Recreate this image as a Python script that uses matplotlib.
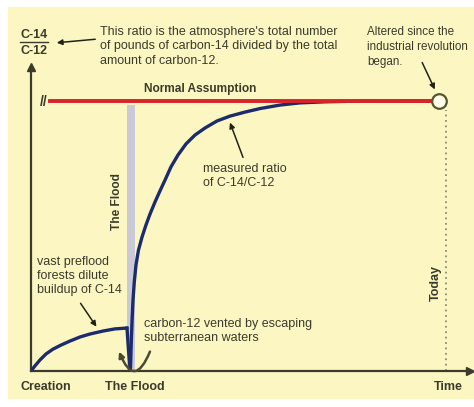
import matplotlib
matplotlib.use("Agg")
import matplotlib.pyplot as plt
from matplotlib import font_manager
from matplotlib.patches import Rectangle

# --- data (time: 0 = Creation, 100 = Today; ratio: 1 = normal assumption) ---
preflood_time = [0, 0.96, 2.17, 3.61, 5.3, 7.23, 9.4, 11.81, 14.22, 17.35,
                 20.24, 23.13]
preflood_ratio = [0, 0.019, 0.041, 0.063, 0.081, 0.096, 0.111, 0.126, 0.137,
                  0.148, 0.156, 0.159]

flood_drop_time = [23.13, 23.49, 23.86]
flood_drop_ratio = [0.159, 0.078, 0.011]

postflood_time = [23.98, 24.1, 24.22, 24.39, 24.58, 24.89, 25.3, 25.9, 26.75,
                  27.71, 28.67, 29.88, 31.08, 32.29, 33.73, 35.42, 37.35,
                  39.52, 41.93, 44.82, 47.95, 51.57, 55.18, 60.0, 64.82,
                  70.84, 76.87, 88.92, 96.87]
postflood_ratio = [0.011, 0.078, 0.133, 0.2, 0.263, 0.33, 0.393, 0.448, 0.496,
                   0.541, 0.581, 0.626, 0.667, 0.707, 0.756, 0.8, 0.841,
                   0.874, 0.9, 0.926, 0.944, 0.959, 0.972, 0.985, 0.993,
                   0.997, 0.999, 1.0, 1.0]

normal_time = [4.6, 97.0]
normal_ratio = [1.0, 1.0]

flood_band = (23.1, 25.1)
altered_point = (98.3, 1.0)
today_time = 100
today_top = 0.967

x_labels = ["Creation", "The Flood", "Time"]
x_label_pos = [3.5, 25.0, 100.5]

# --- style ---
W, H = 474, 407
bg = "#fcf7c2"
ink = "#3b3b2c"
navy = "#1b2b6c"
red = "#d8232a"

names = {f.name for f in font_manager.fontManager.ttflist}
family = "Liberation Sans" if "Liberation Sans" in names else "DejaVu Sans"
plt.rcParams["font.family"] = [family, "DejaVu Sans"]


def fp(x, y):
    """pixel position in the picture -> figure fraction"""
    return x / W, 1 - y / H


fig = plt.figure(figsize=(W / 100, H / 100), dpi=100)
fig.patch.set_facecolor("white")
fig.patches.append(Rectangle(fp(8, 398), (W - 8) / W, (398 - 7) / H,
                             transform=fig.transFigure, color=bg, zorder=-5))

# axes: x=0 at px 31, x=100 at px 446; y=0 at px 371, y=1 at px 101
ax = fig.add_axes([31 / W, 1 - 371 / H, (470 - 31) / W, (371 - 67) / H])
ax.set_xlim(0, (470 - 31) / 4.15)
ax.set_ylim(0, (371 - 67) / 270)
ax.patch.set_alpha(0)
for s in ["top", "right"]:
    ax.spines[s].set_visible(False)
for s in ["left", "bottom"]:
    ax.spines[s].set_color(ink)
    ax.spines[s].set_linewidth(1.6)
ax.set_xticks([])
ax.set_yticks([])
ax.plot(1, 0, ">", color=ink, ms=6, transform=ax.transAxes, clip_on=False)
ax.plot(0, 1, "^", color=ink, ms=6, transform=ax.transAxes, clip_on=False)

# flood band and today line
ax.axvspan(flood_band[0], flood_band[1], ymin=0, ymax=0.985 / ax.get_ylim()[1],
           color="#c9c9d8", lw=0, zorder=1)
ax.plot([today_time, today_time], [0, today_top], ls=(0, (1, 2)),
        color="#8c8c78", lw=1.3, zorder=1)

# curves
ax.plot(preflood_time, preflood_ratio, color=navy, lw=2.4, zorder=3,
        solid_capstyle="round", solid_joinstyle="round")
ax.plot(flood_drop_time, flood_drop_ratio, color=navy, lw=2.4, zorder=3)
ax.plot(postflood_time, postflood_ratio, color=navy, lw=2.4, zorder=3,
        solid_capstyle="round", solid_joinstyle="round")
ax.plot(normal_time, normal_ratio, color=red, lw=2.8, zorder=4)
ax.plot(*altered_point, "o", ms=10.5, mfc="#fffdea", mec="#55552f", mew=1.6,
        zorder=5)

# texts
fs = 9
ls = 1.25
fig.text(*fp(34, 35), "C-14", ha="center", va="center", fontsize=9,
         color=ink, fontweight="bold")
fig.lines.append(plt.Line2D([fp(20, 0)[0], fp(48, 0)[0]],
                            [fp(0, 42)[1]] * 2, color=ink, lw=1,
                            transform=fig.transFigure))
fig.text(*fp(34, 51), "C-12", ha="center", va="center", fontsize=9,
         color=ink, fontweight="bold")
fig.text(*fp(44, 102), "//", ha="center", va="center", fontsize=10,
         color=ink, fontweight="bold")

fig.text(*fp(100, 26), "This ratio is the atmosphere's total number\n"
         "of pounds of carbon-14 divided by the total\namount of carbon-12.",
         ha="left", va="top", fontsize=fs, color=ink, linespacing=ls)
fig.text(*fp(367, 26), "Altered since the\nindustrial revolution\nbegan.",
         ha="left", va="top", fontsize=8.4, color=ink, linespacing=1.33)
fig.text(*fp(200, 89), "Normal Assumption", ha="center", va="center",
         fontsize=8.6, color=ink, fontweight="bold")
fig.text(*fp(117, 202), "The Flood", ha="center", va="center", rotation=90,
         fontsize=8.6, color=ink, fontweight="bold")
fig.text(*fp(436, 283), "Today", ha="center", va="center", rotation=90,
         fontsize=9, color=ink, fontweight="bold")
fig.text(*fp(203, 163), "measured ratio\nof C-14/C-12", ha="left", va="top",
         fontsize=fs, color=ink, linespacing=ls)
fig.text(*fp(37, 256), "vast preflood\nforests dilute\nbuildup of C-14",
         ha="left", va="top", fontsize=fs, color=ink, linespacing=ls)
fig.text(*fp(144, 318), "carbon-12 vented by escaping\nsubterranean waters",
         ha="left", va="top", fontsize=fs, color=ink, linespacing=ls)

for lab, pos in zip(x_labels, x_label_pos):
    ax.text(pos, -0.06, lab, ha="center", va="center", fontsize=9,
            color=ink, fontweight="bold")

# arrows
arrow_kw = dict(arrowstyle="-|>", color="#222218", lw=1.1, mutation_scale=8)
ax.annotate("", xy=fp(54, 43), xytext=fp(98, 39), xycoords="figure fraction",
            textcoords="figure fraction", arrowprops=arrow_kw)
ax.annotate("", xy=fp(436, 92), xytext=fp(421, 60), xycoords="figure fraction",
            textcoords="figure fraction", arrowprops=arrow_kw)
ax.annotate("", xy=fp(229, 120), xytext=fp(244, 160),
            xycoords="figure fraction", textcoords="figure fraction",
            arrowprops=arrow_kw)
ax.annotate("", xy=fp(98, 329), xytext=fp(79, 301),
            xycoords="figure fraction", textcoords="figure fraction",
            arrowprops=arrow_kw)
ax.annotate("", xy=fp(118, 349), xytext=fp(151, 349),
            xycoords="figure fraction", textcoords="figure fraction",
            arrowprops=dict(arrowstyle="-|>", color="#4a4a30", lw=1.8,
                            mutation_scale=8,
                            connectionstyle="arc3,rad=-1.3"))

fig.savefig("out.png", dpi=100, facecolor=fig.get_facecolor())
